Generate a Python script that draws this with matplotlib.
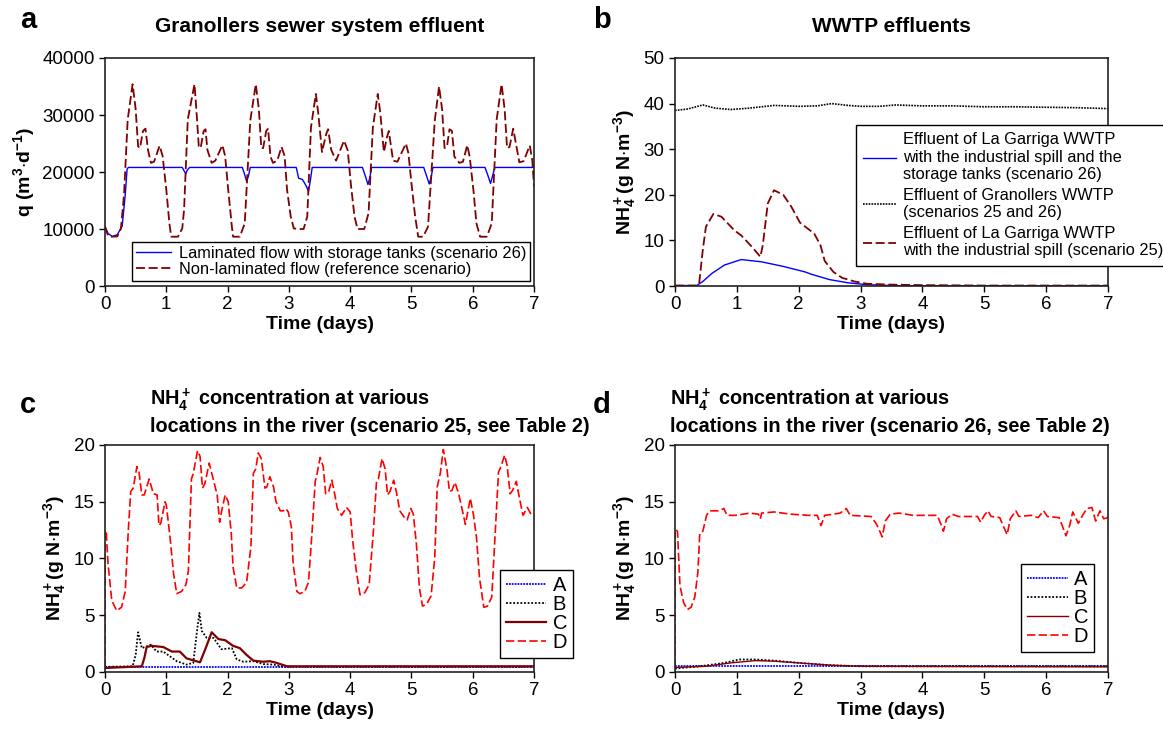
import matplotlib
matplotlib.use("Agg")
import matplotlib.pyplot as plt
import numpy as np

plt.rcParams["font.family"] = ["Liberation Sans", "DejaVu Sans"]
plt.rcParams["mathtext.fontset"] = "custom"
plt.rcParams["mathtext.rm"] = "Liberation Sans:bold"
plt.rcParams["mathtext.it"] = "Liberation Sans:bold"
plt.rcParams["mathtext.bf"] = "Liberation Sans:bold"
plt.rcParams["mathtext.default"] = "rm"

# ---------------------------------------------------------------------------
# Data
# ---------------------------------------------------------------------------

# (a) sewer system effluent, m3/d
a_lam_t = [0, 0.05, 0.12, 0.2, 0.28, 0.33, 0.36, 0.38, 1.26, 1.30, 1.32, 1.34, 1.38,
           2.24, 2.28, 2.31, 2.34, 2.37, 3.12, 3.16, 3.22, 3.28, 3.32, 3.35, 3.38,
           4.20, 4.25, 4.29, 4.32, 4.35, 5.20, 5.25, 5.29, 5.32, 5.35,
           6.20, 6.25, 6.29, 6.32, 6.36, 7.0]
a_lam_q = [10400, 9200, 8700, 9000, 10500, 16000, 20500, 20800, 20800, 20000, 19700, 20300, 20800,
           20800, 19500, 18350, 19300, 20800, 20800, 18900, 18700, 17600, 16600, 18500, 20800,
           20800, 19200, 17800, 19000, 20800, 20800, 19200, 17900, 19000, 20800,
           20800, 19300, 18000, 19200, 20800, 20800]

a_ref_t = [0, 0.05, 0.1, 0.2, 0.26, 0.31, 0.37, 0.45, 0.50, 0.54, 0.57, 0.62, 0.66, 0.70, 0.75,
           0.80, 0.89, 0.94, 1.00, 1.05, 1.08, 1.19, 1.26, 1.29, 1.35, 1.46, 1.49, 1.53, 1.56,
           1.61, 1.64, 1.67, 1.74, 1.80, 1.915, 1.96, 2.01, 2.07, 2.09, 2.20, 2.28, 2.37, 2.46,
           2.51, 2.55, 2.58, 2.63, 2.66, 2.70, 2.74, 2.81, 2.88, 2.93, 2.97, 3.03, 3.08, 3.16,
           3.24, 3.30, 3.36, 3.44, 3.48, 3.54, 3.61, 3.64, 3.69, 3.77, 3.90, 3.96, 4.01, 4.07,
           4.12, 4.23, 4.30, 4.37, 4.45, 4.49, 4.55, 4.60, 4.63, 4.70, 4.77, 4.91, 4.95, 5.00,
           5.06, 5.11, 5.19, 5.27, 5.38, 5.45, 5.50, 5.54, 5.58, 5.62, 5.66, 5.70, 5.78, 5.84,
           5.91, 5.95, 6.01, 6.06, 6.12, 6.23, 6.31, 6.39, 6.47, 6.52, 6.56, 6.60, 6.66, 6.76,
           6.83, 6.93, 6.97, 7.0]
a_ref_q = [10400, 8800, 8650, 8700, 10100, 16000, 29200, 35400, 31000, 24500, 24200, 27200,
           27600, 23900, 21600, 21800, 24600, 22800, 16900, 11000, 8650, 8650, 10100, 13400,
           29200, 35400, 31000, 24500, 24200, 27200, 27500, 23900, 21600, 22000, 24700, 22800,
           16900, 10400, 8650, 8650, 11000, 29000, 35400, 31000, 24200, 24200, 27200, 27600,
           22700, 21600, 22000, 24400, 22800, 16900, 12200, 10100, 10000, 10000, 12200, 27800,
           33700, 30200, 23500, 26700, 27500, 23900, 22000, 25500, 23800, 18000, 12200, 10000,
           10000, 12800, 27800, 33700, 30500, 23500, 26100, 27200, 22000, 21800, 25000, 23300,
           18000, 12200, 8650, 8650, 10400, 29000, 35000, 31000, 24200, 24500, 27500, 27200,
           22700, 21600, 21800, 24700, 22700, 16900, 11000, 8650, 8650, 11000, 29200, 35400,
           31000, 24200, 24400, 27600, 21700, 21900, 24650, 22200, 17500]

# (b) WWTP effluents, g N/m3
b_gran_t = [0, 0.2, 0.45, 0.65, 0.9, 1.2, 1.6, 2.0, 2.3, 2.53, 2.8, 3.0, 3.3, 3.57, 4.0,
            4.5, 5.0, 5.5, 6.0, 6.5, 7.0]
b_gran_v = [38.5, 38.8, 39.7, 39.0, 38.7, 39.0, 39.6, 39.4, 39.5, 40.0, 39.6, 39.4, 39.4,
            39.7, 39.5, 39.5, 39.3, 39.3, 39.2, 39.1, 38.9]
b_tank_t = [0, 0.35, 0.45, 0.6, 0.8, 1.07, 1.4, 1.75, 2.1, 2.2, 2.5, 2.8, 3.1, 3.5, 4.0, 7.0]
b_tank_v = [0.1, 0.1, 1.0, 2.8, 4.6, 5.8, 5.3, 4.3, 3.1, 2.6, 1.4, 0.7, 0.3, 0.1, 0.05, 0.05]
b_spill_t = [0, 0.35, 0.39, 0.45, 0.5, 0.62, 0.75, 0.96, 1.07, 1.25, 1.38, 1.42, 1.5, 1.6,
             1.75, 1.88, 2.02, 2.25, 2.35, 2.42, 2.56, 2.7, 2.9, 3.1, 3.5, 4.0, 5.0, 7.0]
b_spill_v = [0.1, 0.1, 0.5, 8.0, 13.0, 15.8, 15.2, 12.2, 11.1, 8.5, 6.4, 9.0, 18.1, 21.0,
             20.0, 17.4, 13.9, 11.5, 9.0, 5.5, 3.1, 1.8, 1.0, 0.5, 0.3, 0.2, 0.1, 0.1]

# (c) river, scenario 25
c_a_t = [0, 7.0]
c_a_v = [0.47, 0.47]
c_b_t = [0, 0.45, 0.50, 0.54, 0.60, 0.75, 0.84, 0.95, 1.17, 1.33, 1.44, 1.50, 1.54, 1.58,
         1.66, 1.77, 1.90, 2.07, 2.15, 2.26, 2.42, 2.58, 2.75, 2.91, 7.0]
c_b_v = [0.45, 0.5, 1.5, 3.5, 2.1, 2.4, 1.8, 1.8, 0.95, 0.65, 0.8, 3.6, 5.2, 3.6,
         3.0, 3.0, 2.0, 2.1, 1.1, 0.9, 0.95, 0.7, 0.65, 0.47, 0.47]
c_c_t = [0, 0.6, 0.64, 0.68, 0.76, 0.95, 1.09, 1.22, 1.33, 1.55, 1.65, 1.74, 1.85, 1.96,
         2.09, 2.20, 2.31, 2.42, 2.58, 2.69, 2.80, 2.97, 7.0]
c_c_v = [0.35, 0.5, 1.2, 2.2, 2.3, 2.2, 1.8, 1.8, 1.2, 0.85, 2.2, 3.5, 2.9, 2.8,
         2.3, 2.1, 1.5, 1.0, 0.9, 0.95, 0.8, 0.5, 0.5]
c_d_t = [0, 0.001, 0.02, 0.05, 0.11, 0.19, 0.27, 0.33, 0.38, 0.42, 0.46, 0.52, 0.555, 0.60,
         0.64, 0.72, 0.79, 0.85, 0.88, 0.91, 0.98, 1.0, 1.06, 1.12, 1.17, 1.25, 1.32, 1.36,
         1.41, 1.44, 1.51, 1.55, 1.59, 1.63, 1.70, 1.77, 1.83, 1.87, 1.90, 1.96, 2.01, 2.06,
         2.09, 2.15, 2.23, 2.31, 2.38, 2.42, 2.46, 2.50, 2.55, 2.61, 2.64, 2.69, 2.75, 2.79,
         2.86, 2.91, 2.95, 2.99, 3.04, 3.07, 3.13, 3.18, 3.26, 3.32, 3.38, 3.43, 3.45, 3.51,
         3.56, 3.60, 3.65, 3.70, 3.75, 3.79, 3.86, 3.94, 4.0, 4.04, 4.10, 4.16, 4.24, 4.31,
         4.38, 4.43, 4.46, 4.52, 4.57, 4.61, 4.65, 4.71, 4.76, 4.81, 4.90, 4.93, 4.99, 5.03,
         5.08, 5.13, 5.18, 5.25, 5.32, 5.38, 5.42, 5.47, 5.52, 5.58, 5.62, 5.66, 5.71, 5.77,
         5.82, 5.88, 5.96, 6.01, 6.06, 6.11, 6.18, 6.24, 6.31, 6.36, 6.42, 6.46, 6.52, 6.56,
         6.61, 6.65, 6.71, 6.77, 6.82, 6.89, 6.95, 7.0]
c_d_v = [0.4, 12.5, 12.3, 9.5, 6.3, 5.4, 5.7, 7.1, 12.5, 15.9, 16.2, 18.1, 17.6, 15.6,
         15.6, 17.0, 15.7, 15.6, 12.9, 13.1, 15.0, 14.7, 11.9, 8.6, 6.9, 7.1, 7.7, 8.9,
         17.0, 17.5, 19.5, 19.0, 16.2, 16.6, 18.4, 16.9, 15.6, 13.2, 14.1, 15.6, 15.0, 12.2,
         9.2, 7.4, 7.4, 7.9, 11.0, 17.5, 17.9, 19.3, 18.8, 16.2, 16.3, 17.2, 16.3, 15.0,
         14.2, 14.2, 14.4, 14.1, 12.8, 9.5, 7.1, 6.9, 7.1, 7.9, 12.5, 16.8, 17.2, 18.9,
         18.1, 15.7, 15.9, 16.9, 15.6, 14.4, 13.8, 14.5, 14.1, 11.6, 8.9, 6.8, 7.0, 7.7,
         12.5, 16.8, 17.0, 18.8, 17.9, 15.6, 15.9, 16.9, 15.7, 14.2, 13.5, 13.4, 14.4, 13.9,
         11.3, 7.4, 5.8, 6.0, 6.7, 10.1, 16.3, 17.5, 19.6, 17.8, 15.9, 16.0, 16.7, 15.7,
         14.5, 13.0, 15.3, 13.9, 11.9, 8.3, 5.7, 5.8, 6.6, 11.6, 17.6, 18.1, 19.1, 18.2,
         15.7, 16.0, 16.8, 15.1, 13.8, 14.5, 13.9, 13.9]

# (d) river, scenario 26
d_a_t = [0, 7.0]
d_a_v = [0.53, 0.53]
d_b_t = [0, 0.4, 0.8, 1.04, 1.3, 1.6, 2.0, 2.5, 3.0, 7.0]
d_b_v = [0.3, 0.5, 0.8, 1.1, 1.1, 1.0, 0.8, 0.6, 0.5, 0.5]
d_c_t = [0, 0.5, 0.9, 1.3, 1.6, 2.0, 2.5, 3.0, 7.0]
d_c_v = [0.4, 0.5, 0.8, 1.0, 0.95, 0.8, 0.6, 0.5, 0.45]
d_d_t = [0, 0.001, 0.04, 0.08, 0.14, 0.2, 0.26, 0.32, 0.37, 0.40, 0.45, 0.51, 0.56, 0.70,
         0.79, 0.84, 0.98, 1.21, 1.35, 1.38, 1.40, 1.60, 1.88, 2.16, 2.30, 2.36, 2.42, 2.56,
         2.67, 2.77, 2.83, 3.17, 3.26, 3.31, 3.35, 3.40, 3.48, 3.62, 3.85, 4.24, 4.30, 4.34,
         4.39, 4.48, 4.58, 4.75, 4.89, 4.94, 5.0, 5.06, 5.11, 5.25, 5.32, 5.37, 5.42, 5.51,
         5.56, 5.76, 5.87, 5.96, 6.02, 6.21, 6.26, 6.32, 6.38, 6.43, 6.52, 6.60, 6.66, 6.74,
         6.80, 6.87, 6.93, 7.0]
d_d_v = [0.4, 12.6, 12.4, 7.6, 6.1, 5.5, 5.7, 6.6, 8.8, 12.2, 12.4, 13.8, 14.2, 14.2,
         14.4, 13.8, 13.8, 14.0, 13.9, 13.5, 14.0, 14.1, 13.9, 13.8, 13.8, 12.9, 13.8, 13.9,
         14.0, 14.4, 13.8, 13.7, 13.0, 12.4, 11.9, 13.3, 13.9, 14.0, 13.8, 13.8, 13.0, 12.4,
         13.5, 13.9, 13.7, 13.7, 13.7, 13.2, 13.8, 14.2, 13.7, 13.6, 12.7, 12.1, 13.5, 14.2,
         13.7, 13.8, 13.6, 14.2, 13.7, 13.6, 12.9, 12.0, 12.9, 14.1, 13.1, 13.9, 14.4, 14.5,
         13.3, 14.2, 13.5, 13.6]

# ---------------------------------------------------------------------------
# Figure
# ---------------------------------------------------------------------------
COL_MAROON = "#800000"
COL_BLUE = "#0000FF"
COL_RED = "#FF0000"
TICK_FS = 13.5
LAB_FS = 14
TITLE_FS = 15

fig = plt.figure(figsize=(11.63, 7.36), dpi=100)
ax_a = fig.add_axes([0.0903, 0.6114, 0.3689, 0.3098])
ax_b = fig.add_axes([0.5804, 0.6114, 0.3723, 0.3098])
ax_c = fig.add_axes([0.0903, 0.0870, 0.3689, 0.3084])
ax_d = fig.add_axes([0.5804, 0.0870, 0.3723, 0.3084])

for ax in (ax_a, ax_b, ax_c, ax_d):
    ax.set_xlim(0, 7)
    ax.set_xticks(range(8))
    ax.tick_params(direction="out", labelsize=TICK_FS, length=4, width=1, top=False, right=False)
    for sp in ax.spines.values():
        sp.set_color("#222222")
        sp.set_linewidth(1.2)
    ax.set_xlabel("Time (days)", fontsize=LAB_FS, fontweight="bold", labelpad=2)


def boxed_legend(ax, **kw):
    leg = ax.legend(frameon=True, fancybox=False, edgecolor="black", framealpha=1,
                    borderaxespad=0, **kw)
    leg.get_frame().set_linewidth(1.0)
    return leg


# ── a ──
ax_a.plot(a_lam_t, a_lam_q, color=COL_BLUE, lw=1.0,
          label="Laminated flow with storage tanks (scenario 26)")
ax_a.plot(a_ref_t, a_ref_q, color=COL_MAROON, lw=1.3, ls=(0, (5, 2)),
          label="Non-laminated flow (reference scenario)")
ax_a.set_ylim(0, 40000)
ax_a.set_yticks(range(0, 40001, 10000))
ax_a.set_ylabel(r"q (m$^3$$\cdot$d$^{-1}$)", fontsize=LAB_FS, fontweight="bold", labelpad=4)
boxed_legend(ax_a, loc="lower left", bbox_to_anchor=(0.063, 0.022), fontsize=11.8,
             borderpad=0.25, handlelength=2.1, handletextpad=0.5, labelspacing=0.05)

# ── b ──
ax_b.plot(b_tank_t, b_tank_v, color=COL_BLUE, lw=1.0,
          label="Effluent of La Garriga WWTP\nwith the industrial spill and the\nstorage tanks (scenario 26)")
ax_b.plot(b_gran_t, b_gran_v, color="black", lw=1.2, ls=(0, (1, 0.7)),
          label="Effluent of Granollers WWTP\n(scenarios 25 and 26)")
ax_b.plot(b_spill_t, b_spill_v, color=COL_MAROON, lw=1.3, ls=(0, (5, 2)),
          label="Effluent of La Garriga WWTP\nwith the industrial spill (scenario 25)")
ax_b.set_ylim(0, 50)
ax_b.set_yticks(range(0, 51, 10))
ax_b.set_ylabel(r"NH$_4^+$(g N$\cdot$m$^{-3}$)", fontsize=LAB_FS, fontweight="bold", labelpad=4)
boxed_legend(ax_b, loc="upper left", bbox_to_anchor=(0.418, 0.706), fontsize=11.8,
             borderpad=0.45, handlelength=2.0, handletextpad=0.4, labelspacing=0.35)

# ── c, d ──
for ax, (at, av), (bt, bv), (ct, cv), (dt, dv), anchor in [
    (ax_c, (c_a_t, c_a_v), (c_b_t, c_b_v), (c_c_t, c_c_v), (c_d_t, c_d_v), (0.921, 0.449)),
    (ax_d, (d_a_t, d_a_v), (d_b_t, d_b_v), (d_c_t, d_c_v), (d_d_t, d_d_v), (0.80, 0.475)),
]:
    ax.plot(at, av, color=COL_BLUE, lw=1.3, ls=(0, (1, 0.6)), label="A")
    ax.plot(bt, bv, color="black", lw=1.3, ls=(0, (1, 1)), label="B")
    ax.plot(ct, cv, color=COL_MAROON, lw=1.6 if ax is ax_c else 1.0, label="C")
    ax.plot(dt, dv, color=COL_RED, lw=1.2, ls=(0, (5, 2)), label="D")
    ax.set_ylim(0, 20)
    ax.set_yticks(range(0, 21, 5))
    ax.set_ylabel(r"NH$_4^+$(g N$\cdot$m$^{-3}$)", fontsize=LAB_FS, fontweight="bold", labelpad=4)
    boxed_legend(ax, loc="upper left", bbox_to_anchor=anchor, fontsize=14.5,
                 borderpad=0.3, handlelength=2.0, handletextpad=0.3, labelspacing=0.0)

# ── titles and panel letters ──
fig.text(320 / 1163, 1 - 27 / 736, "Granollers sewer system effluent", ha="center",
         va="center", fontsize=TITLE_FS, fontweight="bold")
fig.text(891 / 1163, 1 - 27 / 736, "WWTP effluents", ha="center", va="center",
         fontsize=TITLE_FS, fontweight="bold")
fig.text(150 / 1163, 1 - 386 / 736,
         "NH$_4^+$ concentration at various\nlocations in the river (scenario 25, see Table 2)",
         ha="left", va="top", fontsize=14.3, fontweight="bold", linespacing=1.25)
fig.text(670 / 1163, 1 - 386 / 736,
         "NH$_4^+$ concentration at various\nlocations in the river (scenario 26, see Table 2)",
         ha="left", va="top", fontsize=14.3, fontweight="bold", linespacing=1.25)
for letter, x, y in [("a", 28, 20), ("b", 602, 20), ("c", 28, 405), ("d", 602, 405)]:
    fig.text(x / 1163, 1 - y / 736, letter, ha="center", va="center",
             fontsize=21, fontweight="bold")

fig.savefig("out.png", dpi=100)
